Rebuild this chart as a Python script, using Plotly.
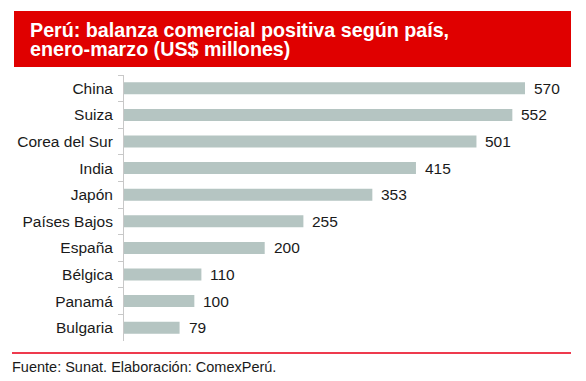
import plotly.graph_objects as go

categories = ["China", "Suiza", "Corea del Sur", "India", "Japón", "Países Bajos",
              "España", "Bélgica", "Panamá", "Bulgaria"]
values = [570, 552, 501, 415, 353, 255, 200, 110, 100, 79]
title_lines = ["Perú: balanza comercial positiva según país,",
               "enero-marzo (US$ millones)"]
footer = "Fuente: Sunat. Elaboración: ComexPerú."

W, H = 586, 381
L, R, T, B = 124, 571, 75, 341
pw, ph = R - L, B - T

def px(x):
    return (x - L) / pw

def py(y):
    return (B - y) / ph

FONT = "Liberation Sans, Arial, sans-serif"

fig = go.Figure(go.Bar(
    x=values, y=categories, orientation="h",
    marker=dict(color="#b5c5c2", line=dict(width=0)),
    width=0.45, hoverinfo="skip",
))

annotations = []
for c, v in zip(categories, values):
    annotations.append(dict(x=v, y=c, xref="x", yref="y", text=str(v),
                            showarrow=False, xanchor="left", yanchor="middle",
                            xshift=7, font=dict(family=FONT, size=15.5, color="#1a1a1a")))

annotations.append(dict(x=px(28), y=py(30), xref="paper", yref="paper",
                        text="<b>" + title_lines[0] + "</b>", showarrow=False,
                        xanchor="left", yanchor="middle",
                        font=dict(family=FONT, size=19.7, color="white")))
annotations.append(dict(x=px(28), y=py(49), xref="paper", yref="paper",
                        text="<b>" + title_lines[1] + "</b>", showarrow=False,
                        xanchor="left", yanchor="middle",
                        font=dict(family=FONT, size=19.7, color="white")))
annotations.append(dict(x=px(10), y=py(367), xref="paper", yref="paper",
                        text=footer, showarrow=False,
                        xanchor="left", yanchor="middle",
                        font=dict(family=FONT, size=14.5, color="#1a1a1a")))

shapes = [
    dict(type="rect", xref="paper", yref="paper", x0=px(14), x1=px(571),
         y0=py(67), y1=py(11), fillcolor="#e00000", line=dict(width=0), layer="below"),
    dict(type="line", xref="paper", yref="paper", x0=px(12), x1=px(571),
         y0=py(353), y1=py(353), line=dict(color="#ee3a4e", width=2)),
]

fig.update_layout(
    width=W, height=H,
    margin=dict(l=L, r=W - R, t=T, b=H - B, pad=0),
    paper_bgcolor="white", plot_bgcolor="white",
    showlegend=False,
    xaxis=dict(range=[0, 570 * pw / (525 - L)], visible=False, fixedrange=True),
    yaxis=dict(autorange="reversed", showline=True, linecolor="#c8c8c8", linewidth=1,
               ticks="outside", tickson="boundaries", ticklen=5, tickcolor="#c8c8c8",
               tickfont=dict(family=FONT, size=15.5, color="#1a1a1a"),
               ticklabelstandoff=7, showgrid=False, zeroline=False, fixedrange=True,
               automargin=False),
    annotations=annotations, shapes=shapes,
    bargap=0.55,
)

fig.write_html("out.html", config={"displayModeBar": False},
               post_script="document.body.style.margin='0';document.body.style.overflow='hidden';")
